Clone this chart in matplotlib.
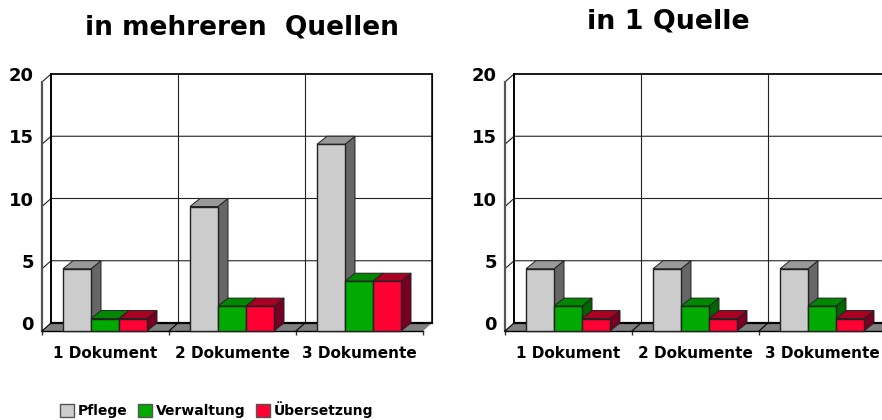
import matplotlib
matplotlib.use('Agg')
import matplotlib.pyplot as plt
from matplotlib.patches import Polygon, Patch

# Daten
kategorien = ['1 Dokument', '2 Dokumente', '3 Dokumente']
serien = ['Pflege', 'Verwaltung', 'Übersetzung']
mehrere_pflege = [5, 10, 15]
mehrere_verwaltung = [1, 2, 4]
mehrere_uebersetzung = [1, 2, 4]
eine_pflege = [5, 5, 5]
eine_verwaltung = [2, 2, 2]
eine_uebersetzung = [1, 1, 1]
y_ticks = [0, 5, 10, 15, 20]

# Farben: vorne, oben, Seite
farben = [('#CCCCCC', '#999999', '#666666'),
          ('#00AA00', '#008800', '#006600'),
          ('#FF0033', '#AA0022', '#770022')]

plt.rcParams['font.family'] = 'DejaVu Sans'
plt.rcParams['font.weight'] = 'bold'

W, H = 882, 420
fig = plt.figure(figsize=(W / 100, H / 100), dpi=100)

# Tiefe der 3D-Wand in Datenkoordinaten
DX = 9 / 127
DY = 8 / 12.45
BAR_DX = 10 / 127
BAR_START = 21 / 127
BAR_W = 28 / 127


def diagramm(left_px, werte):
    ax = fig.add_axes([left_px / W, (H - 331) / H, 381 / W, 249 / H])
    ax.set_xlim(0, 3)
    ax.set_ylim(0, 20)
    for s in ax.spines.values():
        s.set_visible(False)
    ax.patch.set_visible(False)

    # Boden
    ax.add_patch(Polygon([(0, 0), (3, 0), (3 + DX, DY), (DX, DY)], closed=True,
                         fc='#808080', ec='none', clip_on=False, zorder=1))
    ax.plot([DX, 3 + DX], [DY, DY], color='black', lw=1.6, clip_on=False, zorder=1.5)
    ax.plot([0, 3], [0, 0], color='black', lw=1.0, clip_on=False, zorder=1.5)

    # Gitter auf der Rueckwand
    for v in y_ticks[1:]:
        ax.plot([0, DX, 3 + DX], [v, v + DY, v + DY], color='#222222', lw=0.8,
                clip_on=False, zorder=1.2)
    for i in range(1, 4):
        ax.plot([i + DX, i + DX], [DY, 20 + DY], color='#222222', lw=0.8,
                clip_on=False, zorder=1.2)
    for i in range(0, 3):
        ax.plot([i, i + DX], [0, DY], color='black', lw=0.8, clip_on=False, zorder=1.6)
    ax.plot([DX, DX], [DY, 20 + DY], color='black', lw=1.4, clip_on=False, zorder=1.3)
    ax.plot([DX, 3 + DX], [20 + DY, 20 + DY], color='black', lw=1.1, clip_on=False, zorder=1.3)
    ax.plot([3 + DX, 3 + DX], [DY, 20 + DY], color='black', lw=1.1, clip_on=False, zorder=1.3)
    ax.plot([0, 0], [0, 20], color='#555555', lw=1.6, clip_on=False, zorder=1.4)

    # Balken
    z = 3
    for g in range(3):
        for k, reihe in enumerate(werte):
            v = reihe[g]
            x0 = g + BAR_START + k * BAR_W
            x1 = x0 + BAR_W
            front, top, side = farben[k]
            ax.add_patch(Polygon([(x1, 0), (x1 + BAR_DX, DY), (x1 + BAR_DX, v + DY), (x1, v)],
                                 closed=True, fc=side, ec='#222222', lw=0.7, clip_on=False, zorder=z))
            ax.add_patch(Polygon([(x0, v), (x1, v), (x1 + BAR_DX, v + DY), (x0 + BAR_DX, v + DY)],
                                 closed=True, fc=top, ec='#222222', lw=0.7, clip_on=False, zorder=z))
            ax.add_patch(Polygon([(x0, 0), (x1, 0), (x1, v), (x0, v)],
                                 closed=True, fc=front, ec='#222222', lw=1.0, clip_on=False, zorder=z + 0.1))
            z += 1

    ax.set_yticks([])
    ax.set_xticks(range(4))
    ax.set_xticklabels([])
    ax.tick_params(axis='x', length=3, width=1.0, color='#333333')
    for v in y_ticks:
        ax.annotate(str(v), xy=(0, v), xytext=(-8, 6), textcoords='offset pixels',
                    ha='right', va='center', fontsize=13, annotation_clip=False)
    for i, name in enumerate(kategorien):
        ax.annotate(name, xy=(i + 0.5, 0), xytext=(0, -22), textcoords='offset pixels',
                    ha='center', va='center', fontsize=11, annotation_clip=False)
    return ax


diagramm(42, [mehrere_pflege, mehrere_verwaltung, mehrere_uebersetzung])
diagramm(505, [eine_pflege, eine_verwaltung, eine_uebersetzung])

fig.text(242 / W, 1 - 28 / H, 'in mehreren  Quellen', ha='center', va='center', fontsize=19)
fig.text(668 / W, 1 - 22 / H, 'in 1 Quelle', ha='center', va='center', fontsize=19.4)

griffe = [Patch(fc=farben[i][0], ec='#555555', lw=1.0, label=serien[i]) for i in range(3)]
fig.legend(handles=griffe, loc='center left', bbox_to_anchor=(57 / W, 1 - 410 / H), ncol=3,
           frameon=False, fontsize=10, handlelength=1.0, handleheight=1.0,
           handletextpad=0.3, columnspacing=0.75, borderpad=0.2, borderaxespad=0)

fig.savefig('out.png', dpi=100)
